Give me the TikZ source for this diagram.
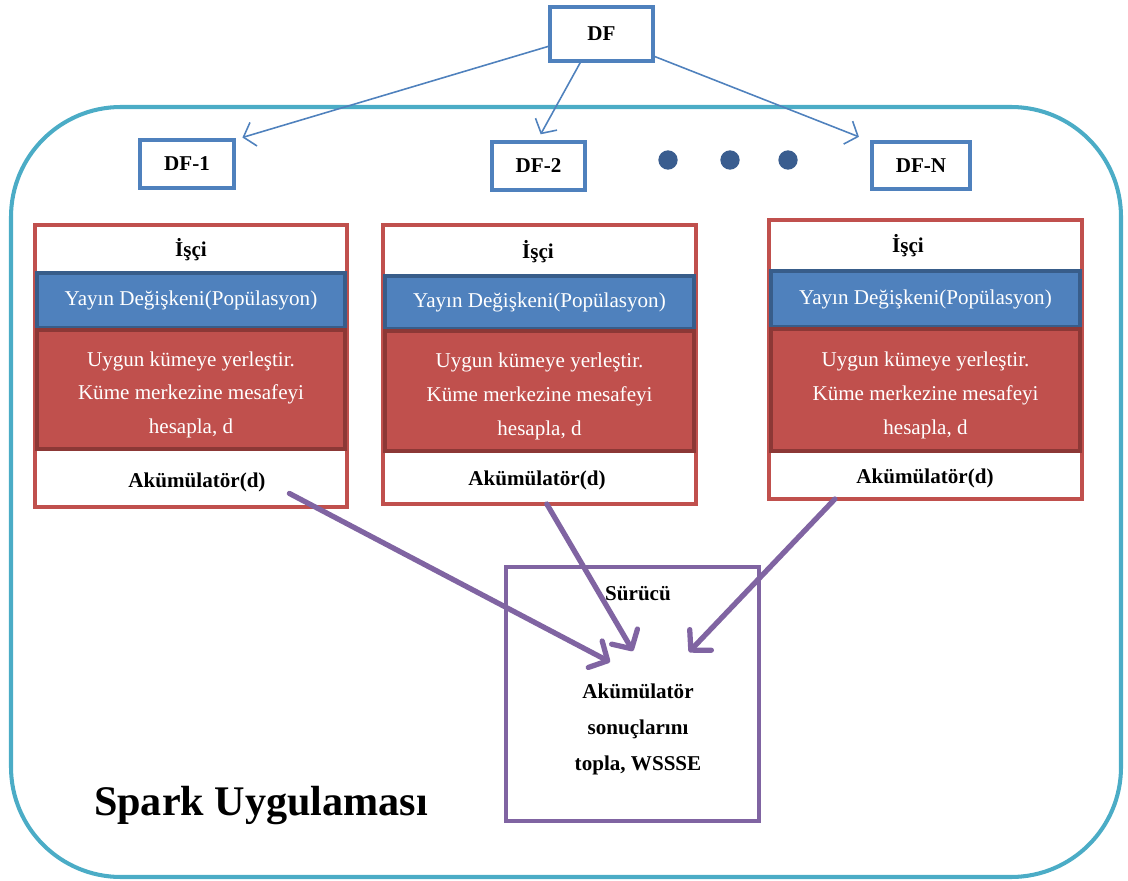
\documentclass[tikz,border=0pt]{standalone}
\usepackage{fontspec}
\setmainfont{Liberation Serif}
\usetikzlibrary{fit,arrows.meta,calc}
\definecolor{dfblue}{HTML}{4F81BD}
\definecolor{banddark}{HTML}{385D8A}
\definecolor{workred}{HTML}{C0504D}
\definecolor{reddark}{HTML}{8C3836}
\definecolor{drvpurple}{HTML}{8064A2}
\definecolor{appteal}{HTML}{4BACC6}
\definecolor{dotblue}{HTML}{3A5D8F}
\tikzset{
  rect/.style={inner sep=0pt, outer sep=0pt},
  dfbox/.style={rect, draw=dfblue, line width=2.8pt, fill=white},
  workbox/.style={rect, draw=workred, line width=2.2pt, fill=white},
  bcastband/.style={rect, draw=banddark, line width=2.2pt, fill=dfblue},
  calcband/.style={rect, draw=reddark, line width=2.2pt, fill=workred},
  bandtext/.style={text=white, font=\fontsize{12}{14}\selectfont},
  calctext/.style={text=white, align=center, font=\fontsize{12}{19.2}\selectfont, yshift=-3pt},
  boldlbl/.style={font=\bfseries\fontsize{12}{14}\selectfont, inner sep=1pt},
  drvbox/.style={rect, draw=drvpurple, line width=2.4pt, fill=white},
  dfarrow/.style={draw=dfblue, line width=0.9pt, -{Straight Barb[length=6pt,width=14pt]}},
  accarrow/.style={draw=drvpurple, line width=3pt, line cap=round, line join=round,
    -{Straight Barb[length=8pt,width=17pt,line cap=round,line join=round]}},
  sepdot/.style={circle, fill=dotblue, minimum size=11pt, inner sep=0pt},
}
\begin{document}
\begin{tikzpicture}[x=0.02cm, y=-0.02cm]
\useasboundingbox (0,0) rectangle (1128,881);

% application frame
\node[rect, fit={(11,107)(1121,877)}, draw=appteal, line width=2.3pt, rounded corners=2.2cm] (app) {};
\node[font=\bfseries\fontsize{24}{28}\selectfont, inner sep=0pt] (apptitle) at (261,806) {Spark Uygulaması};

% data frame and its partitions
\node[dfbox, fit={(550,7)(653,61)}] (df) {};
\node[boldlbl] (dflbl) at (df.center) {DF};
\node[dfbox, fit={(140,140)(234,188)}] (df1) {};
\node[boldlbl] (df1lbl) at (df1.center) {DF-1};
\node[dfbox, fit={(492,142)(585,190)}] (df2) {};
\node[boldlbl] (df2lbl) at (df2.center) {DF-2};
\node[dfbox, fit={(872,142)(970,189)}] (dfn) {};
\node[boldlbl] (dfnlbl) at (dfn.center) {DF-N};
\node[sepdot] (dot1) at (668,160) {};
\node[sepdot] (dot2) at (730,160) {};
\node[sepdot] (dot3) at (788,160) {};

\draw[dfarrow, shorten >=5pt] (df.193) -- (df1.north east);
\draw[dfarrow, shorten >=5pt] (df.233) -- (df2.95);
\draw[dfarrow, shorten >=8pt] (df.337) -- (dfn.north west);

% workers
\node[workbox, fit={(35,225)(347,507)}] (w1) {};
\node[bcastband, fit={(37,273)(345,328)}] (b1) {};
\node[calcband, fit={(37,330)(345,449)}] (c1) {};
\node[bandtext] (b1lbl) at (b1.center) {Yayın Değişkeni(Popülasyon)};
\node[calctext] (c1lbl) at (c1.center) {Uygun kümeye yerleştir.\\Küme merkezine mesafeyi\\hesapla, d};
\node[boldlbl] (i1) at (191,250) {İşçi};
\node[boldlbl] (acc1) at (197,482) {Akümülatör(d)};

\node[workbox, fit={(383,225)(696,504)}] (w2) {};
\node[bcastband, fit={(385,276)(694,329)}] (b2) {};
\node[calcband, fit={(385,331)(694,451)}] (c2) {};
\node[bandtext] (b2lbl) at (b2.center) {Yayın Değişkeni(Popülasyon)};
\node[calctext] (c2lbl) at (c2.center) {Uygun kümeye yerleştir.\\Küme merkezine mesafeyi\\hesapla, d};
\node[boldlbl] (i2) at (538,252) {İşçi};
\node[boldlbl] (acc2) at (537,480) {Akümülatör(d)};

\node[workbox, fit={(769,220)(1082,499)}] (w3) {};
\node[bcastband, fit={(771,271)(1080,327)}] (b3) {};
\node[calcband, fit={(771,329)(1080,451)}] (c3) {};
\node[bandtext] (b3lbl) at (b3.center) {Yayın Değişkeni(Popülasyon)};
\node[calctext] (c3lbl) at (c3.center) {Uygun kümeye yerleştir.\\Küme merkezine mesafeyi\\hesapla, d};
\node[boldlbl] (i3) at (908,246) {İşçi};
\node[boldlbl] (acc3) at (925,478) {Akümülatör(d)};

% driver
\node[drvbox, fit={(506,567)(759,821)}] (drv) {};
\node[boldlbl] (drvtitle) at (638,594) {Sürücü};
\node[boldlbl, align=center, font=\bfseries\fontsize{12}{20.5}\selectfont] (drvtext) at (638,729) {Akümülatör\\sonuçlarını\\topla, WSSSE};

% accumulator results flowing to the driver
\coordinate (in1) at (610,662);
\coordinate (in2) at (633,651);
\coordinate (in3) at (689,652);
\draw[accarrow, shorten <=14pt] (acc1.east) -- (in1);
\draw[accarrow] (w2.-87) -- (in2);
\draw[accarrow] (w3.237) -- (in3);
\end{tikzpicture}
\end{document}
